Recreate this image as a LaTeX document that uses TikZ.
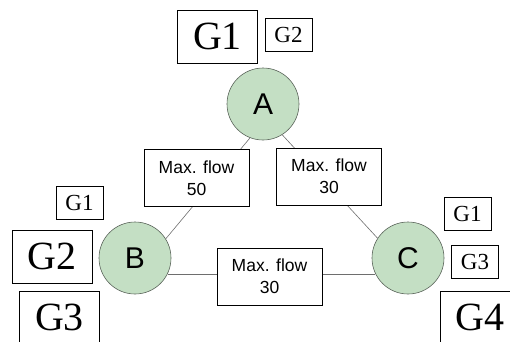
\documentclass[tikz,border=0pt]{standalone}
\usepackage{fontspec}
\setmainfont{Liberation Serif}
\setsansfont{Liberation Sans}
\definecolor{sitegreen}{RGB}{196,223,196}
\definecolor{siteedge}{RGB}{90,100,90}
\definecolor{linkgray}{RGB}{110,110,110}
\usetikzlibrary{positioning,calc}

\begin{document}
\begin{tikzpicture}[x=1pt,y=1pt,
    site/.style={circle, fill=sitegreen, draw=siteedge, line width=0.6pt,
        minimum size=72pt, inner sep=0pt, font=\sffamily\fontsize{30}{32}\selectfont},
    flowbox/.style={draw=black, fill=white, line width=0.8pt, align=center,
        minimum width=105pt, minimum height=57pt, inner sep=0pt,
        font=\sffamily\fontsize{17.5}{22}\selectfont},
    gbig/.style={draw=black, fill=white, line width=0.8pt, minimum width=80pt,
        minimum height=53pt, inner sep=0pt, font=\fontsize{40}{42}\selectfont},
    gsmall/.style={draw=black, fill=white, line width=0.8pt, minimum width=47pt,
        minimum height=33pt, inner sep=0pt, font=\fontsize{23}{25}\selectfont},
    link/.style={draw=linkgray, line width=0.6pt}]
    \useasboundingbox (0,0) rectangle (510,341);
    \clip (0,0) rectangle (510,341);
    % sites
    \node[site] (A) at (263,237) {A};
    \node[site] (B) at (135,83) {B};
    \node[site] (C) at (408,83) {C};
    % links, drawn behind the flow boxes
    \foreach \from/\to in {A.249/B.32, A.302/C.147, B.334/C.206}
        \draw[link] (\from) -- (\to);
    \node[flowbox] (flowAB) at (196.5,163) {Max. flow\\50};
    \node[flowbox] (flowAC) at (329,164.5) {Max. flow\\30};
    \node[flowbox] (flowBC) at (269.5,64.5) {Max. flow\\30};
    % group labels
    \node[gbig] (aG1) at (217.5,304.5) {G1};
    \node[gsmall] (aG2) at (288.5,306.5) {G2};
    \node[gsmall] (bG1) at (79.5,138.5) {G1};
    \node[gbig] (bG2) at (52,84.5) {G2};
    \node[gbig] (bG3) at (59.5,23.5) {G3};
    \node[gsmall] (cG1) at (467.5,127) {G1};
    \node[gsmall] (cG3) at (475,79.5) {G3};
    \node[gbig] (cG4) at (480,23.5) {G4};
\end{tikzpicture}
\end{document}
